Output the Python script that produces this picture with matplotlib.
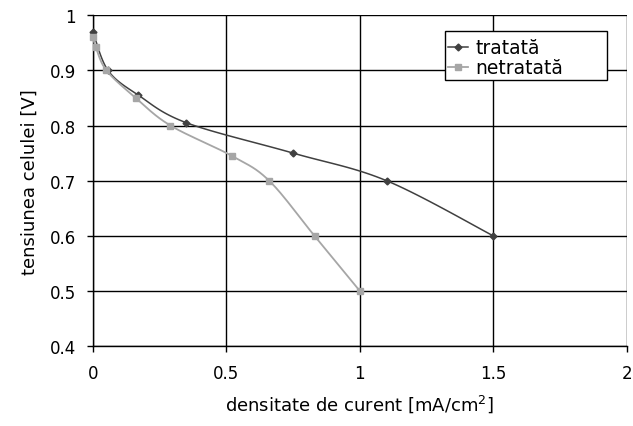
import numpy as np
import matplotlib.pyplot as plt
from matplotlib.patches import Rectangle

# date
x_tratata = [0.0, 0.056, 0.17, 0.35, 0.75, 1.10, 1.50]
y_tratata = [0.97, 0.90, 0.855, 0.805, 0.75, 0.70, 0.60]
x_netratata = [0.0, 0.01, 0.05, 0.16, 0.29, 0.52, 0.66, 0.83, 1.00]
y_netratata = [0.96, 0.943, 0.90, 0.85, 0.80, 0.745, 0.70, 0.60, 0.50]

x_ticks = [0, 0.5, 1, 1.5, 2]
y_ticks = [0.4, 0.5, 0.6, 0.7, 0.8, 0.9, 1]


def smooth(xs, ys, n=20):
    # Catmull-Rom, ca liniile netezite din Excel
    p = np.column_stack([xs, ys])
    p = np.vstack([p[0], p, p[-1]])
    out = []
    for i in range(1, len(p) - 2):
        p0, p1, p2, p3 = p[i - 1], p[i], p[i + 1], p[i + 2]
        t = np.linspace(0, 1, n)[:, None]
        c = 0.5 * ((2 * p1) + (-p0 + p2) * t + (2 * p0 - 5 * p1 + 4 * p2 - p3) * t ** 2
                   + (-p0 + 3 * p1 - 3 * p2 + p3) * t ** 3)
        out.append(c)
    c = np.vstack(out)
    return c[:, 0], c[:, 1]


fig = plt.figure(figsize=(6.33, 4.27), dpi=100)
ax = fig.add_axes([0.147, 0.187, 0.843, 0.775])

c1 = '#404040'
c2 = '#a6a6a6'
sx, sy = smooth(x_tratata, y_tratata)
ax.plot(sx, sy, color=c1, lw=1.1, zorder=3, clip_on=False)
ax.plot(x_tratata, y_tratata, 'D', color=c1, ms=3.5, zorder=4, clip_on=False)
sx, sy = smooth(x_netratata, y_netratata)
ax.plot(sx, sy, color=c2, lw=1.3, zorder=3, clip_on=False)
ax.plot(x_netratata, y_netratata, 's', color=c2, ms=5, zorder=4, clip_on=False)

# legenda cu chenar desenat separat (mai lat decat textul)
ax.add_patch(Rectangle((0.659, 0.804), 0.305, 0.148, transform=ax.transAxes,
                       facecolor='white', edgecolor='black', lw=1.0, zorder=5))
h1, = ax.plot([], [], '-D', color=c1, ms=3.5, lw=1.1)
h2, = ax.plot([], [], '-s', color=c2, ms=5, lw=1.3)
leg = ax.legend([h1, h2], ['tratată', 'netratată'], loc='upper left',
                bbox_to_anchor=(0.665, 0.93), fontsize=13.5, frameon=False,
                handlelength=1.05, handletextpad=0.4, borderpad=0, labelspacing=0.05,
                borderaxespad=0)
leg.set_zorder(6)

ax.set_xlim(0, 2)
ax.set_ylim(0.4, 1)
ax.set_xticks(x_ticks)
ax.set_xticklabels(['0', '0.5', '1', '1.5', '2'])
ax.set_yticks(y_ticks)
ax.set_yticklabels(['0.4', '0.5', '0.6', '0.7', '0.8', '0.9', '1'])
ax.grid(True, color='black', lw=1.0)
ax.set_axisbelow(True)
for s in ['top', 'right']:
    ax.spines[s].set_visible(False)
for s in ['left', 'bottom']:
    ax.spines[s].set_linewidth(1.0)
ax.tick_params(labelsize=12, length=4.5, width=1.0, pad=8)
ax.set_xlabel('densitate de curent [mA/cm$^2$]', fontsize=13, labelpad=8)
ax.set_ylabel('tensiunea celulei [V]', fontsize=13, labelpad=8)

fig.savefig('out.png', dpi=100)
